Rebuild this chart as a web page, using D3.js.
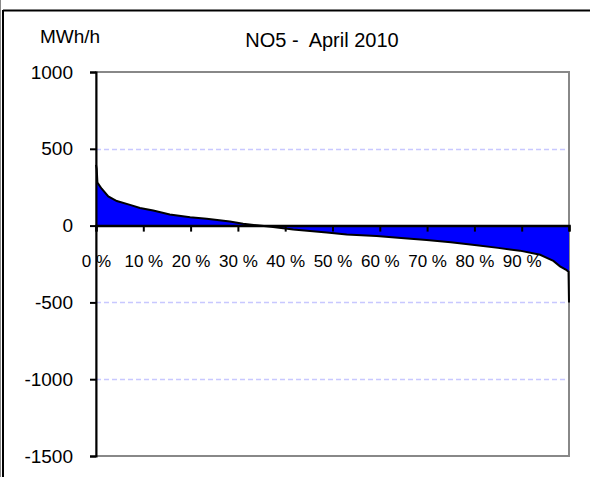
<!DOCTYPE html>
<html>
<head>
<meta charset="utf-8">
<script src="https://cdn.jsdelivr.net/npm/d3@7"></script>
<style>
  body { margin: 0; background: #fff; }
  text { font-family: "Liberation Sans", Arial, sans-serif; fill: #000; white-space: pre; }
</style>
</head>
<body>
<svg id="chart" width="590" height="477"></svg>
<script>
// duration curve, share of hours (%) vs flow (MWh/h)
const durationPct = [0, 0.15, 0.3, 1.2, 2.6, 4.4, 7.2, 9.3, 12.1, 15.6, 19.9, 23.4, 28.3, 31.1, 34, 37,
  41.7, 48.8, 53, 59.3, 64.5, 69.9, 75, 80.5, 85, 89.6, 93.9, 96.7, 98.1, 99.5, 99.9, 100];
const flowMW = [395, 370, 280, 240, 190, 160, 135, 115, 98, 72, 55, 44, 27, 12, 2, -8,
  -26, -45, -58, -68, -80, -93, -108, -128, -145, -163, -190, -230, -265, -290, -300, -500];
const yTicks = [1000, 500, 0, -500, -1000, -1500];
const xTicks = [0, 10, 20, 30, 40, 50, 60, 70, 80, 90];
const gridVals = [500, -500, -1000];

const svg = d3.select("#chart");
const mLeft = 96, mRight = 569, mTop = 72, mBottom = 456;

const x = d3.scaleLinear().domain([0, 100]).range([mLeft, mRight]);
const y = d3.scaleLinear().domain([-1500, 1000]).range([mBottom, mTop]);

const points = durationPct.map((p, i) => [p, flowMW[i]]);

// outer frame
svg.append("line").attr("x1", 0.5).attr("x2", 0.5).attr("y1", 0).attr("y2", 477)
  .attr("stroke", "#888").attr("stroke-width", 1);
svg.append("line").attr("x1", 3).attr("x2", 3).attr("y1", 10).attr("y2", 477)
  .attr("stroke", "#000").attr("stroke-width", 2);
svg.append("line").attr("x1", 3).attr("x2", 590).attr("y1", 10.5).attr("y2", 10.5)
  .attr("stroke", "#000").attr("stroke-width", 2);

// grid
svg.selectAll(".grid").data(gridVals).enter().append("line")
  .attr("x1", mLeft).attr("x2", mRight)
  .attr("y1", d => Math.round(y(d)) + 0.5).attr("y2", d => Math.round(y(d)) + 0.5)
  .attr("stroke", "#c8c8ff").attr("stroke-width", 1.5).attr("stroke-dasharray", "5,3");

// plot border (gray)
svg.append("rect").attr("x", mLeft).attr("y", mTop).attr("width", mRight - mLeft).attr("height", mBottom - mTop)
  .attr("fill", "none").attr("stroke", "#888").attr("stroke-width", 2);

// area
const area = d3.area().x(d => x(d[0])).y0(y(0)).y1(d => y(d[1]));
svg.append("path").datum(points).attr("d", area).attr("fill", "#0000ff");
const line = d3.line().x(d => x(d[0])).y(d => y(d[1]));
svg.append("path").datum(points).attr("d", line)
  .attr("fill", "none").attr("stroke", "#000").attr("stroke-width", 2);

// y axis
const yAxis = d3.axisLeft(y).tickValues(yTicks).tickSize(6).tickPadding(17).tickFormat(d => String(d));
const gy = svg.append("g").attr("transform", `translate(${mLeft},0)`).call(yAxis);
gy.select(".domain").attr("stroke", "#000").attr("stroke-width", 2);
gy.selectAll(".tick line").attr("stroke", "#000").attr("stroke-width", 2);
gy.selectAll("text").style("font-size", "19px").attr("fill", "#000")
  .style("font-family", "'Liberation Sans', Arial, sans-serif");

// x axis at zero
const xAxis = d3.axisBottom(x).tickValues(xTicks.concat([100])).tickSize(6).tickPadding(23)
  .tickFormat(d => d === 100 ? "" : d + " %");
const gx = svg.append("g").attr("transform", `translate(0,${y(0)})`).call(xAxis);
gx.select(".domain").attr("stroke", "#000").attr("stroke-width", 2.5);
gx.selectAll(".tick line").attr("stroke", "#000").attr("stroke-width", 2);
gx.selectAll("text").style("font-size", "17px").attr("fill", "#000")
  .style("font-family", "'Liberation Sans', Arial, sans-serif");

// titles
svg.append("text").attr("x", 322).attr("y", 47).attr("text-anchor", "middle")
  .style("font-size", "20px").text("NO5 -  April 2010");
svg.append("text").attr("x", 40).attr("y", 43)
  .style("font-size", "19px").text("MWh/h");
</script>
</body>
</html>
